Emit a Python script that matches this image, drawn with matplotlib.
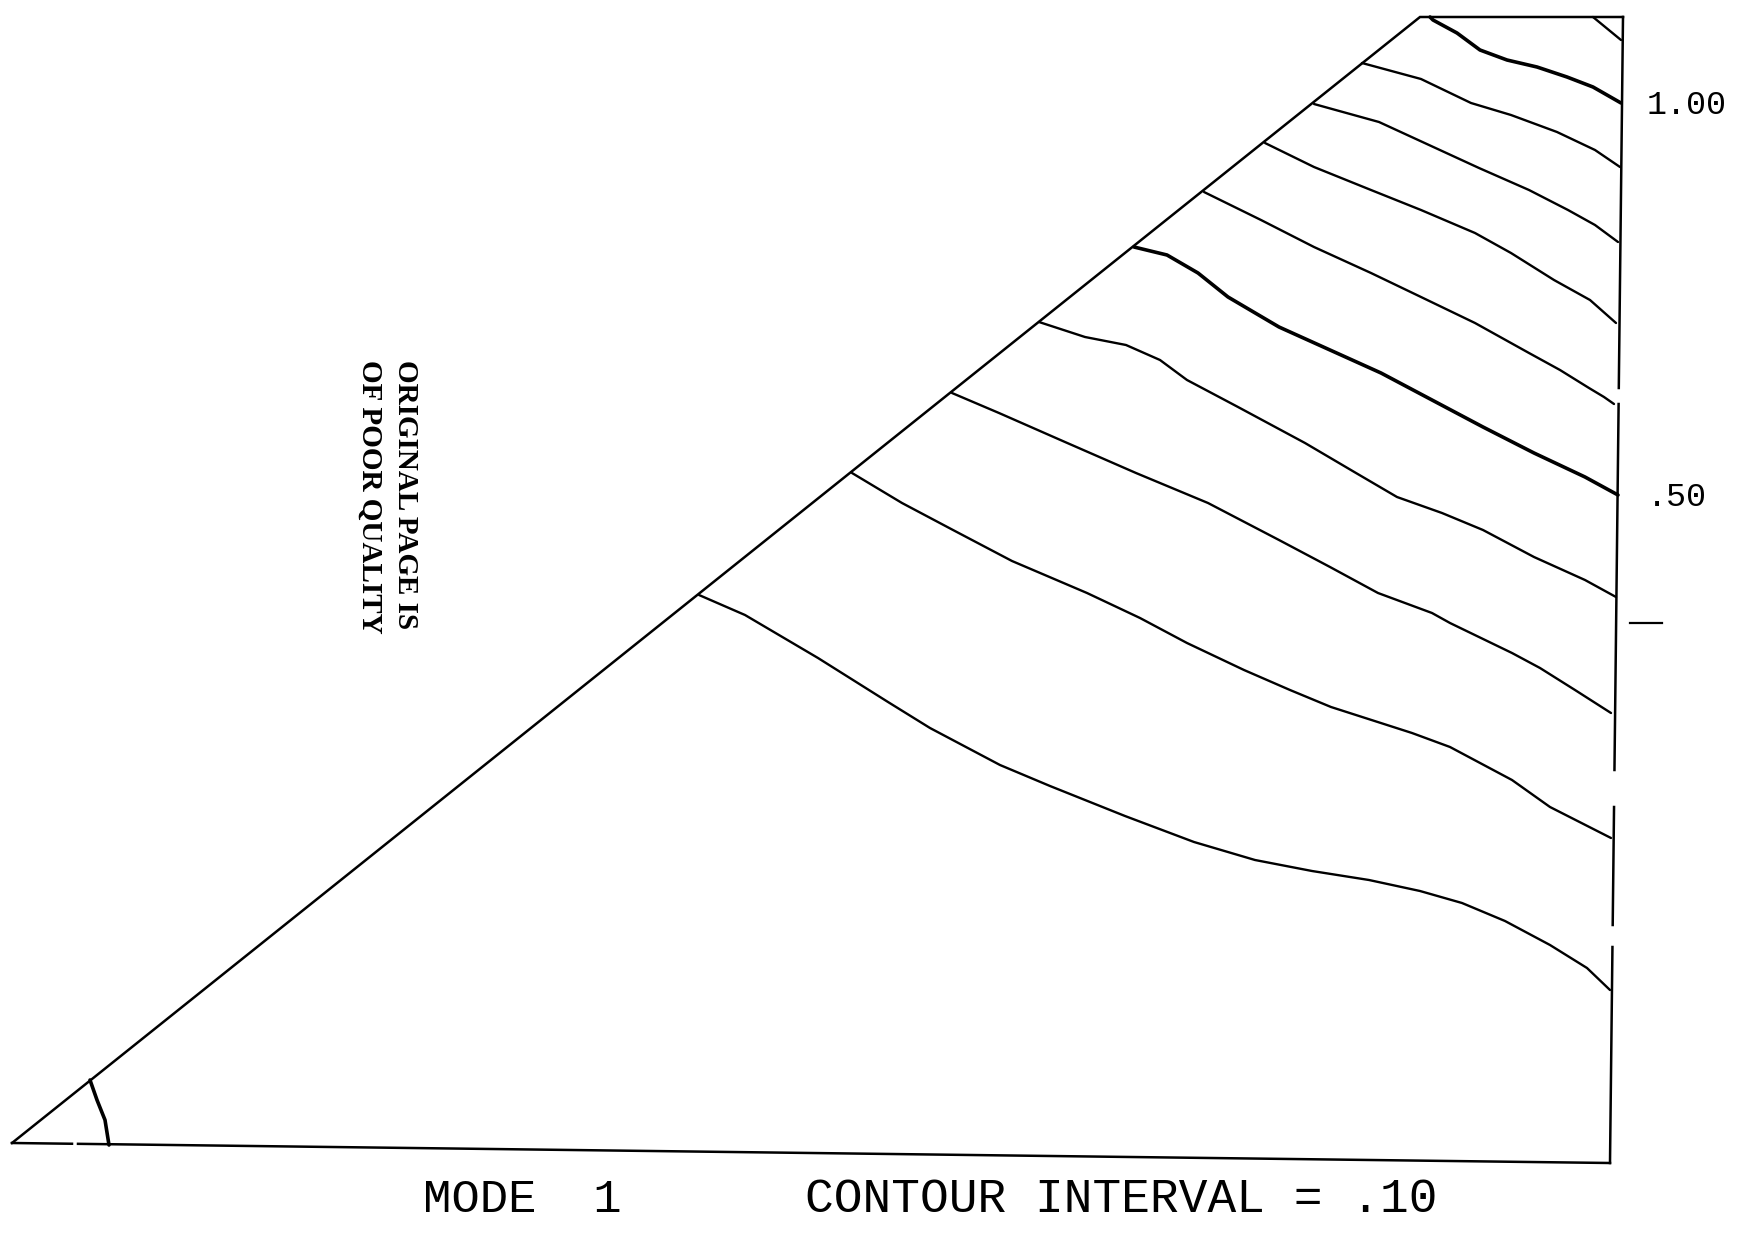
import numpy as np
import matplotlib
matplotlib.use("Agg")
import matplotlib.pyplot as plt

# ---- planform outline (plot units, y downward as on the sheet) ----
apex = (12, 1143)
tip_le = (1420, 17)
tip_te = (1623, 17)
root_te = (1610, 1163)
right_gaps_y = [(388, 404), (770, 807), (925, 947)]
bottom_gap_x = (72, 78)

# ---- contour lines (level: (x, y)) ----
c00_x = [90, 97, 105, 109]
c00_y = [1080, 1100, 1120, 1145]
c01_x = [699, 745, 818, 888, 930, 1000, 1050, 1125, 1194, 1255, 1312, 1369, 1420, 1462, 1505, 1550, 1587, 1610]
c01_y = [595, 615, 658, 702, 728, 765, 786, 816, 842, 860, 871, 880, 891, 903, 921, 945, 968, 990]
c02_x = [852, 902, 953, 1012, 1087, 1140, 1187, 1244, 1290, 1331, 1412, 1450, 1512, 1550, 1611]
c02_y = [473, 503, 530, 561, 593, 618, 643, 670, 690, 707, 733, 747, 780, 807, 838]
c03_x = [952, 999, 1065, 1136, 1208, 1279, 1330, 1378, 1432, 1450, 1512, 1540, 1575, 1611]
c03_y = [393, 413, 442, 473, 503, 540, 567, 593, 613, 623, 653, 668, 690, 713]
c04_x = [1039, 1085, 1126, 1160, 1187, 1238, 1305, 1356, 1397, 1442, 1483, 1534, 1585, 1616]
c04_y = [322, 337, 345, 360, 380, 407, 443, 473, 497, 513, 530, 557, 580, 597]
c05_x = [1134, 1167, 1198, 1228, 1279, 1330, 1381, 1432, 1483, 1534, 1585, 1618]
c05_y = [247, 255, 273, 297, 327, 350, 373, 400, 427, 453, 477, 495]
c06_x = [1204, 1261, 1314, 1371, 1421, 1475, 1529, 1560, 1589, 1604, 1614]
c06_y = [192, 220, 247, 273, 297, 323, 353, 370, 388, 397, 404]
c07_x = [1265, 1314, 1371, 1421, 1475, 1511, 1554, 1590, 1616]
c07_y = [143, 167, 190, 210, 233, 253, 280, 300, 323]
c08_x = [1314, 1379, 1429, 1479, 1529, 1568, 1595, 1618]
c08_y = [104, 122, 145, 168, 190, 210, 225, 242]
c09_x = [1362, 1421, 1471, 1511, 1557, 1595, 1620]
c09_y = [63, 79, 103, 115, 132, 150, 167]
c10_x = [1430, 1433, 1457, 1480, 1507, 1537, 1567, 1593, 1621]
c10_y = [17, 20, 33, 50, 60, 67, 77, 87, 103]
c11_x = [1593, 1621]
c11_y = [17, 40]

heavy_levels = ["0.0", "0.5", "1.0"]
contours = {
    "0.0": (c00_x, c00_y), "0.1": (c01_x, c01_y), "0.2": (c02_x, c02_y),
    "0.3": (c03_x, c03_y), "0.4": (c04_x, c04_y), "0.5": (c05_x, c05_y),
    "0.6": (c06_x, c06_y), "0.7": (c07_x, c07_y), "0.8": (c08_x, c08_y),
    "0.9": (c09_x, c09_y), "1.0": (c10_x, c10_y), "1.1": (c11_x, c11_y),
}

# ---- labels ----
level_labels = ["1.00", ".50"]
level_label_y = [105, 497]
mode_text = "MODE  1"
interval_text = "CONTOUR INTERVAL = .10"
stamp_lines = ["ORIGINAL PAGE IS", "OF POOR QUALITY"]

fig = plt.figure(figsize=(17.54, 12.35), dpi=100)
ax = fig.add_axes([0, 0, 1, 1])
ax.set_xlim(0, 1754)
ax.set_ylim(1235, 0)
ax.axis("off")

ink = "black"
lw_edge = 1.8

# leading edge and tip
ax.plot([apex[0], tip_le[0], tip_te[0]], [apex[1], tip_le[1], tip_te[1]], color=ink, lw=lw_edge,
        solid_joinstyle="miter")
# right (trailing) edge with breaks
edge_y = np.array([tip_te[1], root_te[1]])
edge_x = np.array([tip_te[0], root_te[0]])
breaks = [tip_te[1]] + [v for g in right_gaps_y for v in g] + [root_te[1]]
for i in range(0, len(breaks), 2):
    ys = np.array([breaks[i], breaks[i + 1]])
    xs = np.interp(ys, edge_y, edge_x)
    ax.plot(xs, ys, color=ink, lw=lw_edge)
# root edge with small break
bx = np.array([apex[0], root_te[0]])
by = np.array([apex[1], root_te[1]])
for seg in [(apex[0], bottom_gap_x[0]), (bottom_gap_x[1], root_te[0])]:
    xs = np.array(seg)
    ax.plot(xs, np.interp(xs, bx, by), color=ink, lw=lw_edge)

# contours
for lev, (xs, ys) in contours.items():
    lw = 2.6 if lev in heavy_levels else 1.7
    ax.plot(xs, ys, color=ink, lw=lw, solid_capstyle="round", solid_joinstyle="round")

# dash mark on right
ax.plot([1630, 1662], [623, 623], color=ink, lw=1.6)

# level labels
for s, y in zip(level_labels, level_label_y):
    ax.text(1647, y, s, family="Liberation Mono", fontsize=24, ha="left", va="center", color=ink)

# bottom caption
ax.text(423, 1200, mode_text, family="Liberation Mono", fontsize=34, ha="left", va="center", color=ink)
ax.text(805, 1200, interval_text, family="Liberation Mono", fontsize=34.5, ha="left", va="center", color=ink)

# rotated stamp
ax.text(406, 360, stamp_lines[0], family="Liberation Serif", fontsize=21, fontweight="bold",
        rotation=-90, ha="center", va="top", color=ink)
ax.text(370, 360, stamp_lines[1], family="Liberation Serif", fontsize=21, fontweight="bold",
        rotation=-90, ha="center", va="top", color=ink)

fig.savefig("out.png", dpi=100, facecolor="white")
